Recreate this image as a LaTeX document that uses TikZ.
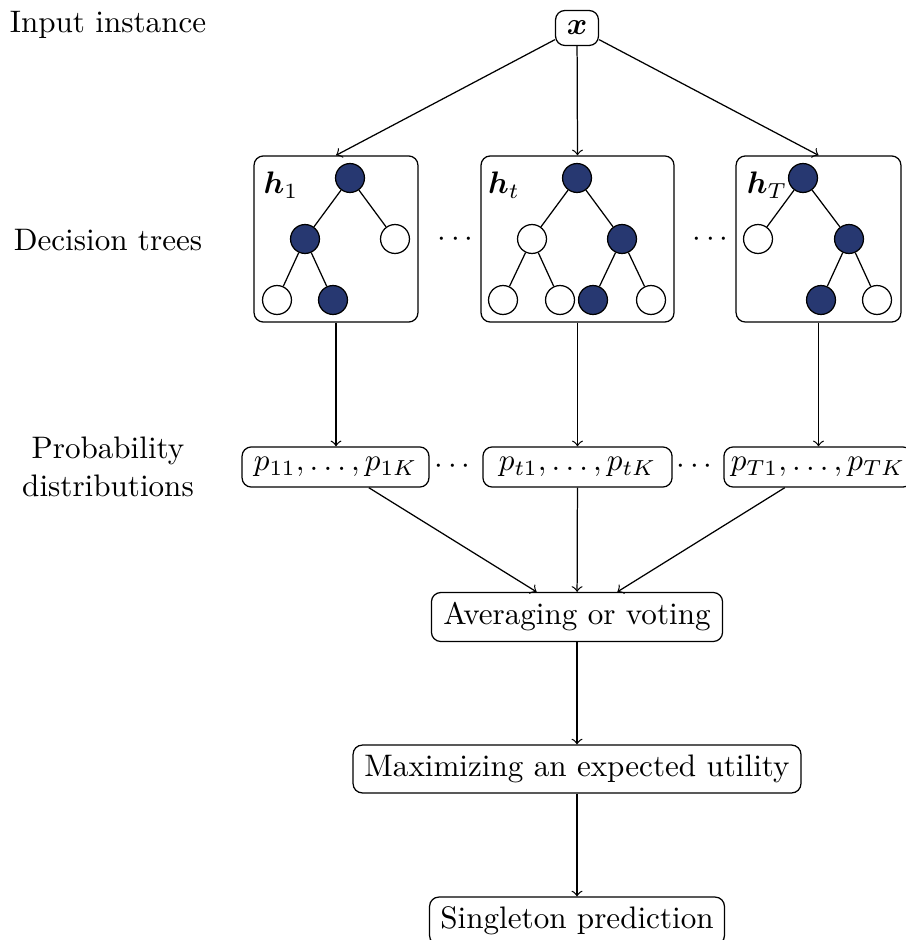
\documentclass[tikz,border=0pt]{standalone}
\usepackage{amsmath,bm}
\definecolor{leafblue}{RGB}{39,56,113}
\begin{document}
\begin{tikzpicture}[x=0.3215pt,y=-0.3215pt,
  box/.style={draw,rounded corners=3pt,inner sep=0pt,align=center},
  full/.style={circle,draw,fill=leafblue,minimum size=9.3pt,inner sep=0pt},
  empty/.style={circle,draw,fill=white,minimum size=9.3pt,inner sep=0pt},
  tag/.style={align=center},
  arr/.style={->}]
\useasboundingbox (0,0) rectangle (905,940);

% row labels
\node[tag] (l1) at (108,25) {Input instance};
\node[tag] (l2) at (108,240) {Decision trees};
\node[tag] (l3) at (108,467) {Probability\\distributions};

% input
\node[box,minimum width=13.8pt,minimum height=11.25pt] (x) at (577,28) {$\bm{x}$};

% tree frames
\node[box,minimum width=52.7pt,minimum height=53.4pt] (T1) at (336,239) {};
\node[box,minimum width=62.05pt,minimum height=53.4pt] (T2) at (577.5,239) {};
\node[box,minimum width=53pt,minimum height=53.4pt] (T3) at (818.5,239) {};
\node (d1) at (458,240) {$\cdots$};
\node (d2) at (713,240) {$\cdots$};

% tree 1
\node (h1) at (281,185) {$\bm{h}_1$};
\node[full] (a1) at (350,178) {};
\node[full] (b1) at (305,239) {};
\node[empty] (c1) at (395,239) {};
\node[empty] (e1) at (277,300) {};
\node[full] (f1) at (333,300) {};
\draw (a1) -- (b1) (a1) -- (c1) (b1) -- (e1) (b1) -- (f1);

% tree t
\node (h2) at (504,185) {$\bm{h}_t$};
\node[full] (a2) at (577,178) {};
\node[empty] (b2) at (532,239) {};
\node[full] (c2) at (622,239) {};
\node[empty] (e2) at (503,300) {};
\node[empty] (f2) at (560,300) {};
\node[full] (g2) at (593,300) {};
\node[empty] (k2) at (651,300) {};
\draw (a2) -- (b2) (a2) -- (c2) (b2) -- (e2) (b2) -- (f2) (c2) -- (g2) (c2) -- (k2);

% tree T
\node (h3) at (767,185) {$\bm{h}_T$};
\node[full] (a3) at (803,178) {};
\node[empty] (b3) at (758,239) {};
\node[full] (c3) at (849,239) {};
\node[full] (e3) at (821,300) {};
\node[empty] (f3) at (877,300) {};
\draw (a3) -- (b3) (a3) -- (c3) (c3) -- (e3) (c3) -- (f3);

% probability distributions
\node[box,minimum width=60.1pt,minimum height=12.9pt] (P1) at (335.5,467) {$p_{11},\ldots,p_{1K}$};
\node[box,minimum width=60.8pt,minimum height=12.9pt] (P2) at (577.5,467) {$p_{t1},\ldots,p_{tK}$};
\node[box,minimum width=60.5pt,minimum height=12.9pt] (P3) at (818,467) {$p_{T1},\ldots,p_{TK}$};
\node (d3) at (455,467) {$\cdots$};
\node (d4) at (697,467) {$\cdots$};

% aggregation steps
\node[box,minimum width=93.6pt,minimum height=15.75pt] (avg) at (577,617) {Averaging or voting};
\node[box,minimum width=144pt,minimum height=15.4pt] (max) at (577,769) {Maximizing an expected utility};
\node[box,minimum width=94.8pt,minimum height=15.4pt] (single) at (577,921) {Singleton prediction};

% connectors
\draw[arr] (x) -- (T1.north);
\draw[arr] (x) -- (T2.north);
\draw[arr] (x) -- (T3.north);
\draw[arr] (T1.south) -- (T1.south |- P1.north);
\draw[arr] (T2.south) -- (T2.south |- P2.north);
\draw[arr] (T3.south) -- (T3.south |- P3.north);
\draw[arr] (P1) -- (avg);
\draw[arr] (P2) -- (avg);
\draw[arr] (P3) -- (avg);
\draw[arr] (avg) -- (max);
\draw[arr] (max) -- (single);
\end{tikzpicture}
\end{document}
